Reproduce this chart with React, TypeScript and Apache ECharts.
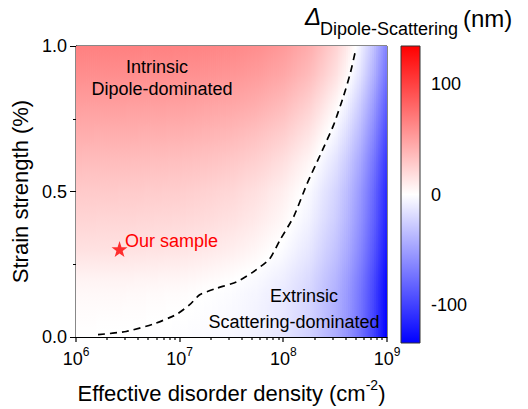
import React, { useEffect, useRef } from 'react';
import * as echarts from 'echarts';

// ---- data ----
const densities = [1e6, 3.2e6, 1e7, 1.8e7, 3.2e7, 5.6e7, 1e8, 1.8e8, 3.2e8, 4.2e8, 5.6e8, 7.5e8, 1e9];
const strains = [0, 0.05, 0.1, 0.15, 0.2, 0.3, 0.4, 0.5, 0.6, 0.7, 0.8, 0.9, 1.0];
// delta (nm), rows follow strains, columns follow densities
const deltaRows = [
  [-0.1, -0.4, -1.3, -2.4, -4.3, -7.5, -13.4, -24.1, -42.9, -56.3, -75.0, -100.5, -134.0],
  [0.9, 0.6, -0.4, -1.6, -3.5, -6.7, -12.6, -23.3, -42.1, -55.5, -74.2, -99.7, -133.2],
  [2.2, 1.8, 0.4, -0.9, -2.8, -6.0, -11.9, -22.6, -41.4, -54.8, -73.5, -99.0, -132.5],
  [3.8, 3.4, 1.9, 0.0, -1.9, -5.1, -11.0, -21.7, -40.5, -53.9, -72.6, -98.1, -131.6],
  [6.5, 6.2, 5.0, 3.2, 0.5, -2.8, -8.7, -19.4, -38.2, -51.6, -70.3, -95.8, -129.3],
  [16.0, 15.5, 14.0, 12.0, 9.0, 4.5, -2.0, -12.7, -31.5, -44.9, -63.6, -89.1, -122.6],
  [22.0, 21.5, 20.0, 18.5, 15.5, 11.0, 3.8, -7.2, -26.0, -39.4, -58.1, -83.6, -117.1],
  [28.0, 27.5, 26.0, 24.0, 21.0, 16.0, 8.5, -3.0, -22.1, -35.5, -54.2, -79.7, -113.2],
  [35.0, 34.5, 33.0, 31.5, 28.5, 24.0, 16.5, 4.2, -14.9, -28.3, -47.0, -72.5, -106.0],
  [43.0, 42.5, 41.5, 40.0, 37.5, 33.0, 26.0, 14.0, -5.4, -18.8, -37.5, -63.0, -96.5],
  [51.0, 50.7, 50.0, 48.5, 46.5, 43.0, 36.0, 24.5, 4.7, -8.7, -27.4, -52.9, -86.4],
  [59.5, 59.2, 58.5, 57.2, 55.3, 52.0, 46.0, 35.0, 16.1, 2.7, -16.0, -41.5, -75.0],
  [67.0, 66.7, 65.8, 64.6, 62.7, 59.5, 53.6, 42.9, 24.1, 10.7, -8.0, -33.5, -67.0],
];
const boundaryDensity = [1.63e6, 3.05e6, 5.53e6, 9.27e6, 1.25e7, 1.56e7, 2.25e7, 3.52e7, 5.09e7, 7.36e7, 9.35e7, 1.26e8, 1.69e8, 2.28e8, 3.05e8, 3.81e8, 4.43e8, 4.94e8];
const boundaryStrain = [0.008, 0.019, 0.044, 0.077, 0.111, 0.145, 0.167, 0.189, 0.223, 0.268, 0.335, 0.414, 0.526, 0.627, 0.728, 0.828, 0.907, 0.98];
const sampleDensity = [2.63e6];
const sampleStrain = [0.302];
const xMajorTicks = [1e6, 1e7, 1e8, 1e9];
const xMinorTicks = [2e6, 3e6, 4e6, 5e6, 6e6, 7e6, 8e6, 9e6, 2e7, 3e7, 4e7, 5e7, 6e7, 7e7, 8e7, 9e7, 2e8, 3e8, 4e8, 5e8, 6e8, 7e8, 8e8, 9e8];
const cbarTicks = [-100, 0, 100];
const cbarMin = -134;
const cbarMax = 134;

const FONT = "'Liberation Sans', Arial, Helvetica, sans-serif";
const STAR = 'path://M50,0 L61.8,35.3 L98.1,35.3 L68.8,57.1 L79.4,91.9 L50,70.6 L20.6,91.9 L31.2,57.1 L1.9,35.3 L38.2,35.3 Z';

function cmap(v: number): string {
  const t = Math.max(-1, Math.min(1, v / cbarMax));
  if (t >= 0) {
    const g = Math.round(255 * (1 - t));
    return `rgb(255,${g},${g})`;
  }
  const r = Math.round(255 * (1 + t));
  return `rgb(${r},${r},255)`;
}

export default function App() {
  const ref = useRef<HTMLDivElement>(null);
  useEffect(() => {
    if (!ref.current) return;
    const chart = echarts.init(ref.current, null, { renderer: 'svg' });

    const fieldRender = (params: any, api: any) => {
      const i = api.value(2) as number;
      const n0 = densities[i];
      const n1 = densities[i + 1];
      const l0 = Math.log10(n0);
      const l1 = Math.log10(n1);
      const yTop = api.coord([n0, strains[strains.length - 1]])[1];
      const yBot = api.coord([n0, strains[0]])[1];
      const H = yBot - yTop;
      const offsets = strains.map((s) => (api.coord([n0, s])[1] - yTop) / H);
      const xEnd = api.coord([densities[densities.length - 1], 0])[0];
      const x0 = api.coord([n0, 0])[0];
      const x1 = api.coord([n1, 0])[0];
      const S = Math.max(2, Math.round((x1 - x0) / 2));
      const children: any[] = [];
      for (let s = 0; s < S; s++) {
        const ta = s / S;
        const tb = (s + 1) / S;
        const tc = (s + 0.5) / S;
        const xa = api.coord([Math.pow(10, l0 + (l1 - l0) * ta), 0])[0];
        const xb = Math.min(api.coord([Math.pow(10, l0 + (l1 - l0) * tb), 0])[0] + 0.8, xEnd);
        const vals = deltaRows.map((row) => row[i] * (1 - tc) + row[i + 1] * tc);
        const stops: any[] = [];
        for (let j = strains.length - 1; j >= 0; j--) {
          stops.push({ offset: Math.min(1, Math.max(0, offsets[j])), color: cmap(vals[j]) });
          if (j > 0 && vals[j] * vals[j - 1] < 0) {
            const f = vals[j] / (vals[j] - vals[j - 1]);
            const oz = offsets[j] + f * (offsets[j - 1] - offsets[j]);
            stops.push({ offset: Math.min(1, Math.max(0, oz)), color: '#ffffff' });
          }
        }
        children.push({
          type: 'rect',
          silent: true,
          shape: { x: xa, y: yTop, width: xb - xa, height: H },
          style: {
            fill: { type: 'linear', x: 0, y: 0, x2: 0, y2: 1, colorStops: stops },
            stroke: null,
          },
        });
      }
      return { type: 'group', children };
    };

    // outward tick marks under the log x axis (major 5 px, minor 3 px)
    const tickRender = (params: any, api: any) => {
      const p = api.coord([api.value(0), 0]);
      const len = api.value(2) > 0 ? 5 : 3;
      return {
        type: 'rect',
        silent: true,
        shape: { x: Math.round(p[0]) - 0.6, y: p[1], width: 1.2, height: len },
        style: { fill: '#000' },
      };
    };

    const cbarRender = (params: any, api: any) => {
      const p0 = api.coord([0, cbarMax]);
      const p1 = api.coord([1, cbarMin]);
      return {
        type: 'rect',
        shape: { x: p0[0], y: p0[1], width: p1[0] - p0[0], height: p1[1] - p0[1] },
        style: {
          fill: {
            type: 'linear', x: 0, y: 0, x2: 0, y2: 1,
            colorStops: [
              { offset: 0, color: cmap(cbarMax) },
              { offset: 0.5, color: '#ffffff' },
              { offset: 1, color: cmap(cbarMin) },
            ],
          },
          stroke: '#333',
          lineWidth: 1,
        },
      };
    };

    const supFormatter = (v: number) => {
      const e = Math.round(Math.log10(v));
      return `{b|10}{s|${e}}`;
    };

    const option: any = {
      animation: false,
      textStyle: { fontFamily: FONT },
      grid: [
        { left: 76, top: 46, width: 311, height: 297, show: true, borderColor: '#111', borderWidth: 1, backgroundColor: 'transparent' },
        { left: 401, top: 46, width: 19, height: 297, show: false },
      ],
      xAxis: [
        {
          type: 'log', logBase: 10, gridIndex: 0, min: 1e6, max: 1e9,
          axisLine: { show: true, lineStyle: { color: '#000', width: 1 } },
          axisTick: { show: false },
          splitLine: { show: false },
          axisLabel: {
            margin: 9,
            formatter: supFormatter,
            rich: {
              b: { fontSize: 18, color: '#000', fontFamily: FONT, lineHeight: 22, verticalAlign: 'bottom' },
              s: { fontSize: 12, color: '#000', fontFamily: FONT, lineHeight: 12, verticalAlign: 'top' },
            },
          },
          name: '{a|Effective disorder density (cm}{s|-2}{a|)}',
          nameLocation: 'middle',
          nameGap: 41,
          nameTextStyle: {
            rich: {
              a: { fontSize: 22, color: '#000', fontFamily: FONT, lineHeight: 26, verticalAlign: 'bottom' },
              s: { fontSize: 14, color: '#000', fontFamily: FONT, lineHeight: 14, verticalAlign: 'top' },
            },
          },
        },
        { type: 'value', gridIndex: 1, min: 0, max: 1, show: false },
      ],
      yAxis: [
        {
          type: 'value', gridIndex: 0, min: 0, max: 1, interval: 0.5,
          axisLine: { show: true, lineStyle: { color: '#000', width: 1 } },
          axisTick: { show: true, inside: false, length: 6, lineStyle: { color: '#000', width: 1 } },
          minorTick: { show: true, splitNumber: 2, length: 3, lineStyle: { color: '#000', width: 1 } },
          splitLine: { show: false },
          axisLabel: { margin: 9, fontSize: 18, color: '#000', fontFamily: FONT, formatter: (v: number) => v.toFixed(1) },
          name: 'Strain strength (%)',
          nameLocation: 'middle',
          nameGap: 38,
          nameTextStyle: { fontSize: 22, color: '#000', fontFamily: FONT },
        },
        {
          type: 'value', gridIndex: 1, min: cbarMin, max: cbarMax, position: 'right',
          axisLine: { show: false },
          axisTick: { show: true, inside: false, length: 4, customValues: cbarTicks, lineStyle: { color: '#333', width: 1 } },
          axisLabel: { show: true, customValues: cbarTicks, margin: 11, fontSize: 18, color: '#000', fontFamily: FONT },
          splitLine: { show: false },
        },
      ],
      series: [
        {
          type: 'custom', xAxisIndex: 0, yAxisIndex: 0, z: 1, clip: true, silent: true,
          renderItem: fieldRender,
          encode: { x: 0, y: 1 },
          data: densities.slice(0, -1).map((n, i) => [n, 0.5, i]),
        },
        {
          type: 'custom', xAxisIndex: 0, yAxisIndex: 0, z: 20, clip: false, silent: true,
          renderItem: tickRender,
          encode: { x: 0, y: 1 },
          data: xMajorTicks.map((n) => [n, 0.5, 1]).concat(xMinorTicks.map((n) => [n, 0.5, 0])),
        },
        {
          type: 'line', xAxisIndex: 0, yAxisIndex: 0, z: 3, showSymbol: false, smooth: 0.2,
          lineStyle: { color: '#000', width: 1.7, type: [7, 5] },
          data: boundaryDensity.map((n, i) => [n, boundaryStrain[i]]),
        },
        {
          type: 'scatter', xAxisIndex: 0, yAxisIndex: 0, z: 4,
          symbol: STAR, symbolSize: 16,
          itemStyle: { color: '#ff0000' },
          data: sampleDensity.map((n, i) => [n, sampleStrain[i]]),
        },
        {
          type: 'custom', xAxisIndex: 1, yAxisIndex: 1, z: 2, silent: true,
          renderItem: cbarRender,
          encode: { x: 0, y: 1 },
          data: [[0.5, 0]],
        },
      ],
      graphic: [
        { type: 'text', x: 157, y: 67, z: 10, style: { text: 'Intrinsic', fontSize: 18, fontFamily: FONT, fill: '#000', align: 'center', verticalAlign: 'middle' } },
        { type: 'text', x: 162, y: 89, z: 10, style: { text: 'Dipole-dominated', fontSize: 18, fontFamily: FONT, fill: '#000', align: 'center', verticalAlign: 'middle' } },
        { type: 'text', x: 304, y: 296, z: 10, style: { text: 'Extrinsic', fontSize: 18, fontFamily: FONT, fill: '#000', align: 'center', verticalAlign: 'middle' } },
        { type: 'text', x: 294, y: 322, z: 10, style: { text: 'Scattering-dominated', fontSize: 18, fontFamily: FONT, fill: '#000', align: 'center', verticalAlign: 'middle' } },
        { type: 'text', x: 125, y: 241, z: 10, style: { text: 'Our sample', fontSize: 18, fontFamily: FONT, fill: '#ff0000', align: 'left', verticalAlign: 'middle' } },
        { type: 'text', x: 305, y: 16, z: 10, style: { text: 'Δ', fontSize: 24, fontStyle: 'italic', fontFamily: FONT, fill: '#000', align: 'left', verticalAlign: 'middle' } },
        { type: 'text', x: 320, y: 29, z: 10, style: { text: 'Dipole-Scattering', fontSize: 18, fontFamily: FONT, fill: '#000', align: 'left', verticalAlign: 'middle' } },
        { type: 'text', x: 463, y: 18, z: 10, style: { text: '(nm)', fontSize: 24, fontFamily: FONT, fill: '#000', align: 'left', verticalAlign: 'middle' } },
      ],
    };
    chart.setOption(option);
    return () => chart.dispose();
  }, []);
  return <div ref={ref} style={{ position: 'fixed', left: 0, top: 0, width: 528, height: 409, background: '#fff' }} />;
}
